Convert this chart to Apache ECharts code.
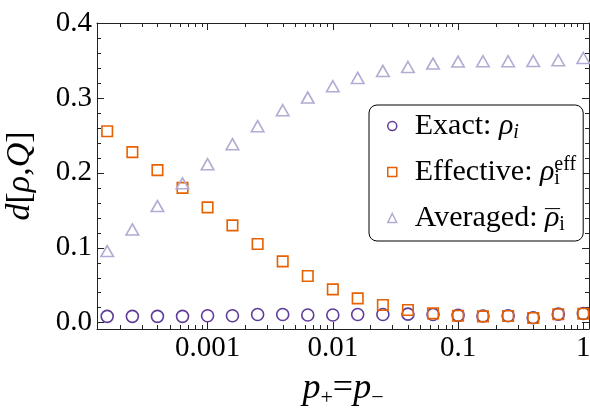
<!DOCTYPE html>
<html><head><meta charset="utf-8">
<script src="https://cdn.jsdelivr.net/npm/echarts@6/dist/echarts.min.js"></script>
<style>html,body{margin:0;padding:0;background:#fff}#c{width:590px;height:408px}</style>
</head><body><div id="c"></div>
<script>
// ---- data ----
const pValues = [1.58e-4, 2.51e-4, 3.98e-4, 6.31e-4, 1.0e-3, 1.58e-3, 2.51e-3, 3.98e-3, 6.31e-3, 0.01,
                 0.0158, 0.0251, 0.0398, 0.0631, 0.1, 0.158, 0.251, 0.398, 0.631, 1.0];
const exact = [0.0085, 0.0085, 0.0085, 0.0085, 0.0093, 0.0093, 0.0110, 0.0110, 0.0103, 0.0103,
               0.0110, 0.0110, 0.0114, 0.0110, 0.0098, 0.0089, 0.0093, 0.0067, 0.0114, 0.0122];
const effective = [0.2556, 0.2276, 0.2036, 0.1800, 0.1539, 0.1299, 0.1050, 0.0818, 0.0623, 0.0445,
                   0.0325, 0.0236, 0.0170, 0.0125, 0.0093, 0.0085, 0.0089, 0.0063, 0.0112, 0.0120];
const averaged = [0.0956, 0.1245, 0.1556, 0.1860, 0.2116, 0.2383, 0.2623, 0.2836, 0.3005, 0.3156,
                  0.3267, 0.3360, 0.3413, 0.3458, 0.3485, 0.3490, 0.3490, 0.3493, 0.3503, 0.3533];
const seriesNames = ['Exact', 'Effective', 'Averaged'];
const xMajorTicks = [0.001, 0.01, 0.1, 1];
const yMajorTicks = [0, 0.1, 0.2, 0.3, 0.4];

// ---- ranges / minor ticks ----
const X_MIN = 1.31e-4, X_MAX = 1.11, Y_MIN = -0.0084, Y_MAX = 0.4;
const xMinorTicks = [];
for (let e = -4; e <= 0; e++) for (let m = 2; m <= 9; m++) {
  const v = +(m * Math.pow(10, e)).toPrecision(3);
  if (v > X_MIN && v < X_MAX) xMinorTicks.push(v);
}
const yMinorTicks = [];
for (let k = 1; k < 20; k++) if (k % 5 !== 0) yMinorTicks.push(+(k * 0.02).toFixed(2));

const COLORS = ['#5e3c99', '#e66101', '#b2abd2'];
const FONT = "'Liberation Serif', 'Times New Roman', serif";
const LINE = '#222';

function xAxis(pos, ticks, len, label, line) {
  return {
    type: 'log', logBase: 10, position: pos, min: X_MIN, max: X_MAX,
    axisLine: { show: line, onZero: false, lineStyle: { color: LINE, width: 1 } },
    axisTick: { show: true, inside: true, length: len, customValues: ticks, lineStyle: { color: LINE, width: 1 } },
    axisLabel: label ? {
      show: true, customValues: ticks, margin: 5, color: '#000', fontFamily: FONT, fontSize: 29,
      formatter: v => String(+(+v).toPrecision(1))
    } : { show: false },
    splitLine: { show: false }, minorTick: { show: false }, minorSplitLine: { show: false }
  };
}
function yAxis(pos, ticks, len, label, line) {
  return {
    type: 'value', position: pos, min: Y_MIN, max: Y_MAX,
    axisLine: { show: line, onZero: false, lineStyle: { color: LINE, width: 1 } },
    axisTick: { show: true, inside: true, length: len, customValues: ticks, lineStyle: { color: LINE, width: 1 } },
    axisLabel: label ? {
      show: true, customValues: ticks, margin: 5, color: '#000', fontFamily: FONT, fontSize: 29,
      formatter: v => (+v).toFixed(1)
    } : { show: false },
    splitLine: { show: false }, minorTick: { show: false }
  };
}

const xAxes = [
  xAxis('bottom', xMajorTicks, 7, true, true),
  xAxis('bottom', xMinorTicks, 4, false, false),
  xAxis('top', xMajorTicks, 7, false, true),
  xAxis('top', xMinorTicks, 4, false, false)
];
Object.assign(xAxes[0], {
  name: '{i|p}{s|+}{n|=}{i|p}{s|\u2212}', nameLocation: 'middle', nameGap: 40,
  nameTextStyle: {
    color: '#000', fontFamily: FONT, fontSize: 36,
    rich: {
      i: { fontFamily: FONT, fontStyle: 'italic', fontSize: 36, lineHeight: 40 },
      n: { fontFamily: FONT, fontSize: 36, lineHeight: 40 },
      s: { fontFamily: FONT, fontSize: 22, lineHeight: 16, verticalAlign: 'bottom' }
    }
  }
});
const yAxes = [
  yAxis('left', yMajorTicks, 7, true, true),
  yAxis('left', yMinorTicks, 4, false, false),
  yAxis('right', yMajorTicks, 7, false, true),
  yAxis('right', yMinorTicks, 4, false, false)
];
Object.assign(yAxes[0], {
  name: '{i|d}{n|[}{i|\u03c1}{n|,}{i|Q}{n|]}', nameLocation: 'middle', nameGap: 58, nameRotate: 90,
  nameTextStyle: {
    color: '#000', fontFamily: FONT, fontSize: 34,
    rich: {
      i: { fontFamily: FONT, fontStyle: 'italic', fontSize: 34, lineHeight: 38 },
      n: { fontFamily: FONT, fontSize: 34, lineHeight: 38 }
    }
  }
});

const symbols = ['circle', 'rect', 'triangle'];
const sizes = [12, 10.5, [12.5, 11]];
const dataSets = [exact, effective, averaged];
const series = seriesNames.map((n, k) => ({
  name: n, type: 'scatter', xAxisIndex: 0, yAxisIndex: 0,
  symbol: symbols[k], symbolSize: sizes[k], z: 2 + k,
  itemStyle: { color: 'transparent', borderColor: COLORS[k], borderWidth: 1.6, opacity: 1 },
  emphasis: { disabled: true },
  data: pValues.map((p, i) => [p, dataSets[k][i]])
}));

const legendLabels = {
  Exact: '{t|Exact: }{r|\u03c1}{si|i}',
  Effective: '{t|Effective: }{r|\u03c1}{sub0|i}{sup|eff}',
  Averaged: '{t|Averaged: }{bar|\u2015}{r|\u03c1}{sub|i}'
};

const option = {
  animation: false,
  backgroundColor: '#fff',
  grid: { left: 97, top: 23, right: 1, bottom: 79, containLabel: false, outerBoundsMode: 'none' },
  xAxis: xAxes,
  yAxis: yAxes,
  legend: {
    orient: 'vertical', left: 369, top: 105,
    padding: [6, 7, 6, 18], itemGap: 12, itemWidth: 9, itemHeight: 9,
    backgroundColor: '#fff', borderColor: '#000', borderWidth: 1, borderRadius: 8,
    selectedMode: false,
    data: seriesNames.map((n, k) => ({
      name: n, icon: symbols[k],
      itemStyle: { color: 'transparent', borderColor: COLORS[k], borderWidth: 1.5 }
    })),
    formatter: n => legendLabels[n],
    textStyle: {
      color: '#000', fontFamily: FONT, fontSize: 30,
      rich: {
        t: { fontFamily: FONT, fontSize: 30, lineHeight: 34, padding: [0, 0, 0, 13] },
        r: { fontFamily: FONT, fontStyle: 'italic', fontSize: 30, lineHeight: 34 },
        si: { fontFamily: FONT, fontStyle: 'italic', fontSize: 20, lineHeight: 15, verticalAlign: 'bottom' },
        sub: { fontFamily: FONT, fontSize: 20, lineHeight: 15, verticalAlign: 'bottom' },
        sub0: { fontFamily: FONT, fontSize: 20, lineHeight: 15, verticalAlign: 'bottom', width: 0 },
        sup: { fontFamily: FONT, fontSize: 20, lineHeight: 20, verticalAlign: 'top' },
        bar: { fontFamily: FONT, fontSize: 15, fontWeight: 'bold', lineHeight: 15, verticalAlign: 'top', width: 0 }
      }
    }
  },
  series: series
};

const chart = echarts.init(document.getElementById('c'), null, { renderer: 'canvas' });
chart.setOption(option);
</script>
</body></html>
